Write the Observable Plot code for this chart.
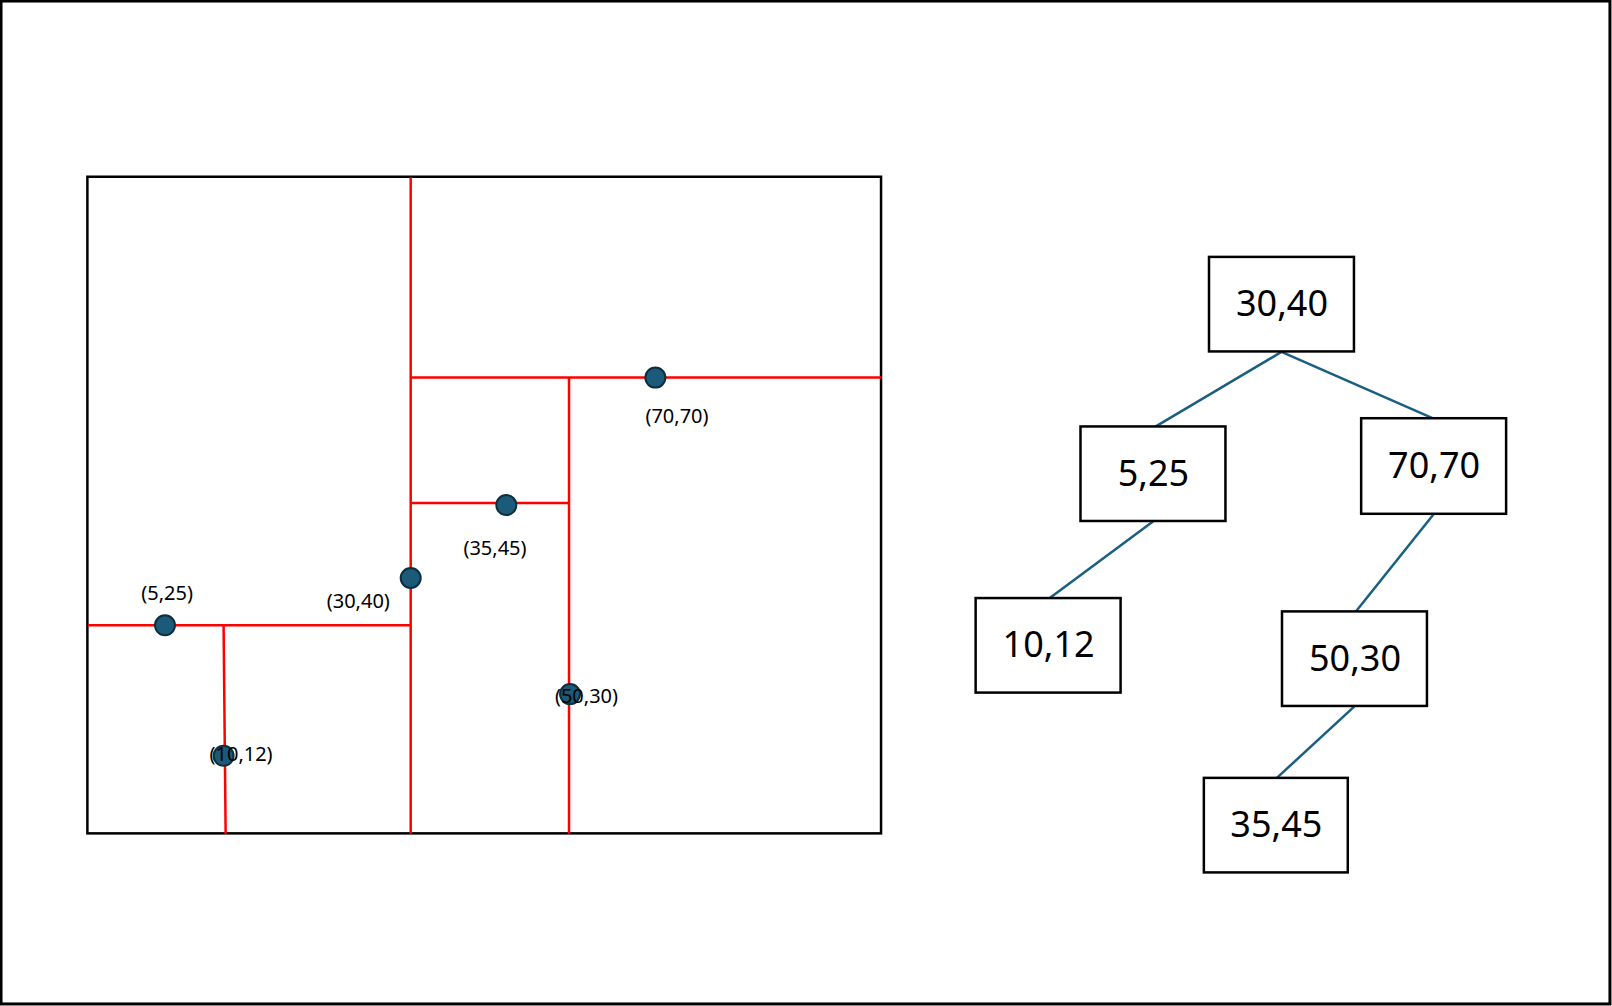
<!DOCTYPE html>
<html>
<head>
<meta charset="utf-8">
<script src="https://cdn.jsdelivr.net/npm/d3@7"></script>
<script src="https://cdn.jsdelivr.net/npm/@observablehq/plot@0.6"></script>
<style>
  body { margin: 0; background: #fff; }
</style>
</head>
<body>
<div id="chart"></div>
<script>
// points of the k-d tree, with where they sit in the drawing (picture units)
const points = [
  {label: "(30,40)", px: 399, py: 562, lx: 348, ly: 585, anchor: "middle"},
  {label: "(5,25)",  px: 160, py: 608, lx: 162, ly: 577, anchor: "middle"},
  {label: "(10,12)", px: 217, py: 735, lx: 234, ly: 734, anchor: "start"},
  {label: "(70,70)", px: 637, py: 367, lx: 658, ly: 405, anchor: "middle"},
  {label: "(35,45)", px: 492, py: 491, lx: 481, ly: 533, anchor: "middle"},
  {label: "(50,30)", px: 554, py: 675, lx: 570, ly: 677, anchor: "start"}
];

// splitting lines
const splits = [
  {x1: 399, y1: 172, x2: 399, y2: 811},
  {x1: 85,  y1: 608, x2: 399, y2: 608},
  {x1: 217, y1: 608, x2: 219, y2: 811},
  {x1: 399, y1: 367, x2: 857, y2: 367},
  {x1: 553, y1: 367, x2: 553, y2: 811},
  {x1: 399, y1: 489, x2: 553, y2: 489}
];

// tree nodes (box extents)
const nodes = [
  {label: "30,40", x1: 1176, x2: 1317, y1: 250, y2: 342},
  {label: "5,25",  x1: 1051, x2: 1192, y1: 415, y2: 507},
  {label: "70,70", x1: 1324, x2: 1465, y1: 407, y2: 500},
  {label: "10,12", x1: 949,  x2: 1090, y1: 582, y2: 674},
  {label: "50,30", x1: 1247, x2: 1388, y1: 595, y2: 687},
  {label: "35,45", x1: 1171, x2: 1311, y1: 757, y2: 849}
];

// tree edges
const edges = [
  {x1: 1246, y1: 342, x2: 1123, y2: 415},
  {x1: 1246, y1: 342, x2: 1394, y2: 407},
  {x1: 1121, y1: 507, x2: 1020, y2: 582},
  {x1: 1394, y1: 500, x2: 1318, y2: 595},
  {x1: 1317, y1: 687, x2: 1241, y2: 757}
];

const frames = [
  {x1: 1, x2: 1566, y1: 1, y2: 977, w: 3},
  {x1: 85, x2: 857, y1: 172, y2: 811, w: 2.5}
];

const chart = Plot.plot({
  width: 1612,
  height: 1006,
  margin: 0,
  x: {domain: [0, 1568], axis: null},
  y: {domain: [979, 0], axis: null},
  style: {fontFamily: "'Noto Sans', sans-serif", background: "#fff"},
  marks: [
    Plot.rect(frames, {x1: "x1", x2: "x2", y1: "y1", y2: "y2", fill: "none", stroke: "#000", strokeWidth: d => d.w}),
    Plot.link(splits, {x1: "x1", y1: "y1", x2: "x2", y2: "y2", stroke: "#ff0000", strokeWidth: 2.5}),
    Plot.dot(points, {x: "px", y: "py", r: 10, fill: "#1b5a78", stroke: "#0d2e3d", strokeWidth: 2}),
    Plot.text(points, {x: "lx", y: "ly", text: "label", textAnchor: d => d.anchor, fontSize: 20, fill: "#000"}),
    Plot.link(edges, {x1: "x1", y1: "y1", x2: "x2", y2: "y2", stroke: "#1a5e80", strokeWidth: 2.5}),
    Plot.rect(nodes, {x1: "x1", x2: "x2", y1: "y1", y2: "y2", fill: "#fff", stroke: "#000", strokeWidth: 2.5}),
    Plot.text(nodes, {x: d => (d.x1 + d.x2) / 2, y: d => (d.y1 + d.y2) / 2, text: "label", fontSize: 36, fill: "#000"})
  ]
});
document.getElementById("chart").append(chart);
</script>
</body>
</html>
